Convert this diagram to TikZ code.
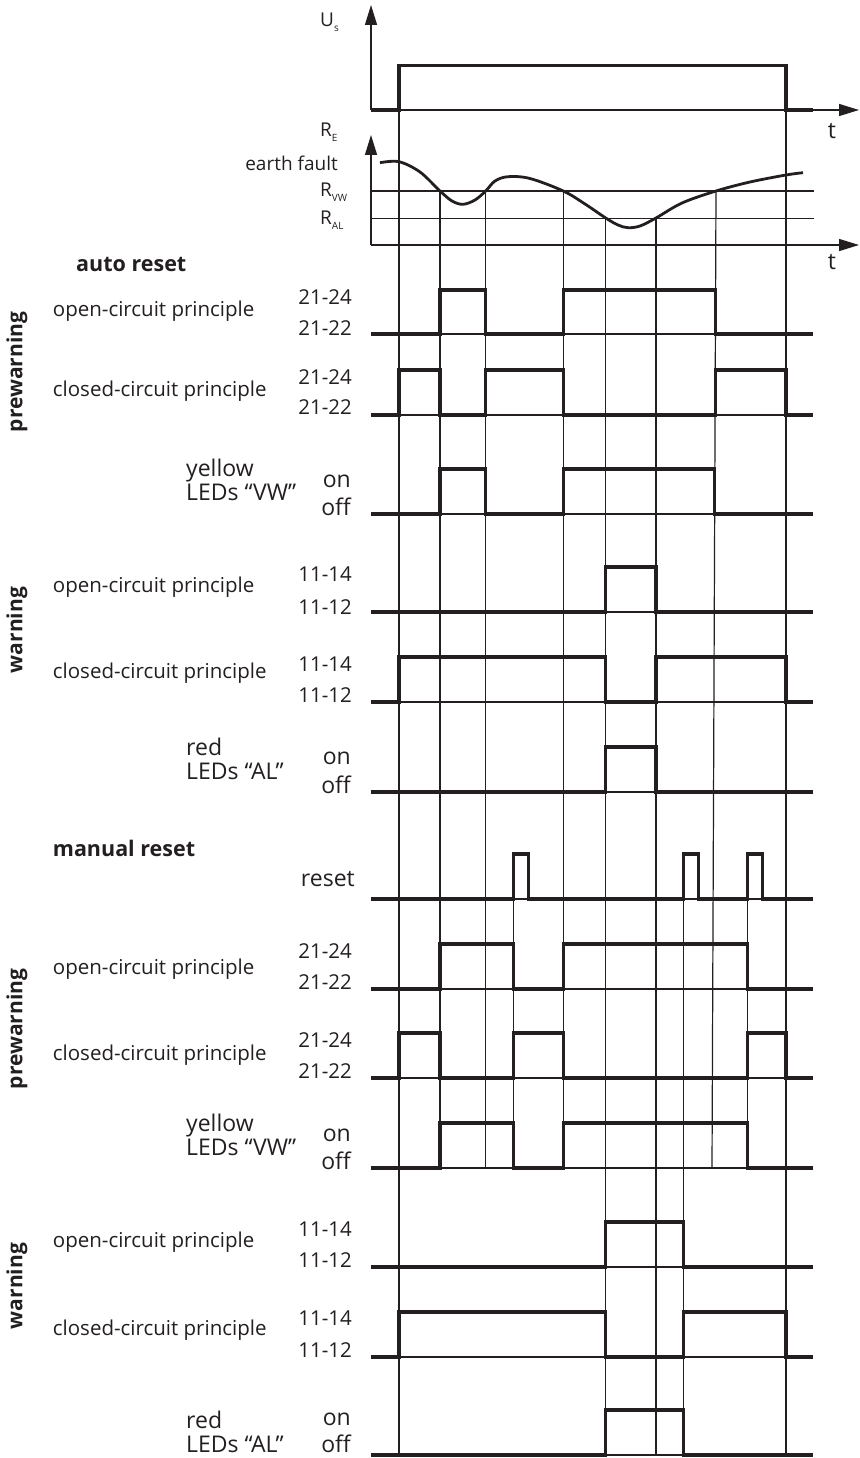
\documentclass[tikz,border=0pt]{standalone}
\usepackage{fontspec}
\setmainfont{Open Sans}
\usepackage{tikz}
\usetikzlibrary{arrows.meta}
\definecolor{ink}{HTML}{231F20}
\newcommand{\lowidx}[1]{\raisebox{-0.5ex}{\fontsize{10}{10}\selectfont #1}}

\begin{document}
\begin{tikzpicture}[x=1pt,y=-1pt,
	every node/.style={inner sep=0pt, text=ink, font=\fontsize{20.5}{23.4}\selectfont},
	big/.style={font=\fontsize{23}{23.4}\selectfont},
	head/.style={anchor=west, font=\fontsize{21.5}{23}\selectfont\bfseries},
	signal/.style={ink, line width=3.1pt},
	guide/.style={ink, line width=1.2pt},
	axis/.style={ink, line width=1.4pt, -{Triangle[length=20pt,width=12pt]}},
	side/.style={rotate=90, font=\fontsize{21}{23}\selectfont\bfseries}]
	\useasboundingbox (0,0) rectangle (859,1458);

	% supply voltage
	\draw[axis] (371,110) -- (371,5);
	\draw[axis] (371,110) -- (859,110);
	\draw[signal] (371,110) -- (399,110) |- (786,65.7) |- (813,110);
	\node[anchor=west, font=\fontsize{19}{23}\selectfont] (us) at (320,22) {U\lowidx{s}};
	\node[big] (t1) at (832,131) {t};

	% earth fault resistance
	\draw[axis] (371,245) -- (371,135);
	\draw[axis] (371,245) -- (859,245);
	\draw[guide] (371,191) -- (814,191);
	\draw[guide] (371,218.3) -- (814,218.3);
	\draw[signal, line width=2.8pt] plot[smooth, tension=0.55] coordinates {(380,162.7) (399,161.7) (420,172) (440,191) (452,201) (463,204.3) (475,200) (485.7,191) (495,181) (508,176.7) (530,178.5) (563.3,191) (585,204) (605.7,218) (618,225) (628,227.7) (640,226) (656,218) (682,203) (716,191) (750,182) (786,175) (803,172.7)};
	\node[anchor=west, font=\fontsize{19}{23}\selectfont] (re) at (320,132) {R\lowidx{E}};
	\node[anchor=east, font=\fontsize{19}{23}\selectfont] (fault) at (338,163) {earth fault};
	\node[anchor=west, font=\fontsize{19}{23}\selectfont] (rvw) at (320,192) {R\lowidx{VW}};
	\node[anchor=west, font=\fontsize{19}{23}\selectfont] (ral) at (320,220) {R\lowidx{AL}};
	\node[big] (t2) at (832,262) {t};

	% time marks
	\draw[guide] (399,65.7) -- (399,1455);
	\draw[guide] (786,65.7) -- (786,1455);
	\foreach \x in {440,485.7,563.3}
		\draw[guide] (\x,191) -- (\x,1168);
	\draw[guide] (716,191) -- (712,1168);
	\foreach \x in {605.7,656}
		\draw[guide] (\x,218.3) -- (\x,1455);
	\foreach \x in {513.3,747.7}
		\draw[guide] (\x,854) -- (\x,1168);
	\draw[guide] (683.3,854) -- (683.3,1455);
	\foreach \y in {334,415,514,612,702,792,899,989,1078,1168,1267,1357,1455}
		\draw[guide] (371,\y) -- (813,\y);

	% auto reset
	\node[head] (auto) at (76,264) {auto reset};
	\node[side] (pre1) at (17,372) {prewarning};
	\node[anchor=west] (oc1) at (52.7,311) {open-circuit principle};
	\node[anchor=east] (a24) at (352,297) {21-24};
	\node[anchor=east] (a22) at (352,328) {21-22};
	\draw[signal] (371,334) -| (440,290) -| (485.7,334) -| (563.3,290) -| (715.5,334) -- (813,334);
	\node[anchor=west] (cc1) at (52.7,391) {closed-circuit principle};
	\node[anchor=east] (b24) at (352,377) {21-24};
	\node[anchor=east] (b22) at (352,407) {21-22};
	\draw[signal] (371,415) -| (399,370) -| (440,415) -| (485.7,370) -| (563.3,415) -| (715.3,370) -| (786,415) -- (813,415);
	\node[big, anchor=west, align=left] (yel1) at (186,480) {yellow\\LEDs “VW”};
	\node[big, anchor=east] (on1) at (351,481) {on};
	\node[big, anchor=east] (off1) at (351,507) {off};
	\draw[signal] (371,514) -| (440,469) -| (485.7,514) -| (563.3,469) -| (714.9,514) -- (813,514);

	\node[side] (warn1) at (17,630) {warning};
	\node[anchor=west] (oc2) at (52.7,587) {open-circuit principle};
	\node[anchor=east] (c14) at (352,574) {11-14};
	\node[anchor=east] (c12) at (352,607) {11-12};
	\draw[signal] (371,612) -| (605.7,567) -| (656,612) -- (813,612);
	\node[anchor=west] (cc2) at (52.7,673) {closed-circuit principle};
	\node[anchor=east] (d14) at (352,664) {11-14};
	\node[anchor=east] (d12) at (352,695) {11-12};
	\draw[signal] (371,702) -| (399,657) -| (605.7,702) -| (656,657) -| (786,702) -- (813,702);
	\node[big, anchor=west, align=left] (red1) at (186,759) {red\\LEDs “AL”};
	\node[big, anchor=east] (on2) at (351,758) {on};
	\node[big, anchor=east] (off2) at (351,785) {off};
	\draw[signal] (371,792) -| (605.7,747) -| (656,792) -- (813,792);

	% manual reset
	\node[head] (manual) at (52.7,848) {manual reset};
	\node[big, anchor=east] (rst) at (355,879) {reset};
	\draw[signal] (371,899) -| (513.3,854) -| (528.3,899) -| (683.3,854) -| (698.3,899) -| (747.7,854) -| (762.7,899) -- (813,899);

	\node[side] (pre2) at (17,1029) {prewarning};
	\node[anchor=west] (oc3) at (52.7,969) {open-circuit principle};
	\node[anchor=east] (e24) at (352,951) {21-24};
	\node[anchor=east] (e22) at (352,982) {21-22};
	\draw[signal] (371,989) -| (440,944) -| (513.3,989) -| (563.3,944) -| (747.7,989) -- (813,989);
	\node[anchor=west] (cc3) at (52.7,1055) {closed-circuit principle};
	\node[anchor=east] (f24) at (352,1040) {21-24};
	\node[anchor=east] (f22) at (352,1071) {21-22};
	\draw[signal] (371,1078) -| (399,1033) -| (440,1078) -| (513.3,1033) -| (563.3,1078) -| (747.7,1033) -| (786,1078) -- (813,1078);
	\node[big, anchor=west, align=left] (yel2) at (186,1135) {yellow\\LEDs “VW”};
	\node[big, anchor=east] (on3) at (351,1135) {on};
	\node[big, anchor=east] (off3) at (351,1161) {off};
	\draw[signal] (371,1168) -| (440,1123) -| (513.3,1168) -| (563.3,1123) -| (747.7,1168) -- (813,1168);

	\node[side] (warn2) at (17,1286) {warning};
	\node[anchor=west] (oc4) at (52.7,1242) {open-circuit principle};
	\node[anchor=east] (g14) at (352,1229) {11-14};
	\node[anchor=east] (g12) at (352,1260) {11-12};
	\draw[signal] (371,1267) -| (605.7,1222) -| (683.3,1267) -- (813,1267);
	\node[anchor=west] (cc4) at (52.7,1330) {closed-circuit principle};
	\node[anchor=east] (h14) at (352,1318) {11-14};
	\node[anchor=east] (h12) at (352,1350) {11-12};
	\draw[signal] (371,1357) -| (399,1312) -| (605.7,1357) -| (683.3,1312) -| (786,1357) -- (813,1357);
	\node[big, anchor=west, align=left] (red2) at (186,1432) {red\\LEDs “AL”};
	\node[big, anchor=east] (on4) at (351,1419) {on};
	\node[big, anchor=east] (off4) at (351,1444) {off};
	\draw[signal] (371,1455) -| (605.7,1410) -| (683.3,1455) -- (813,1455);
\end{tikzpicture}
\end{document}
